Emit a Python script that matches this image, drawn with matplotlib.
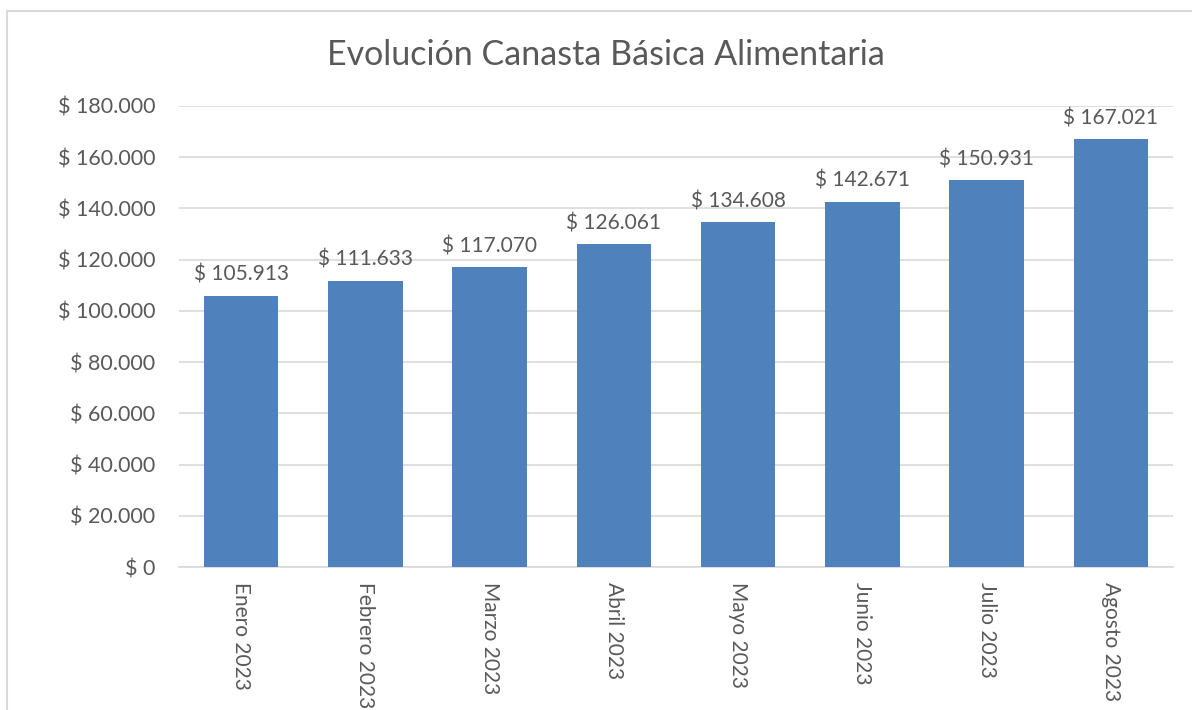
import matplotlib.pyplot as plt
from matplotlib.patches import Rectangle

# Canasta Basica Alimentaria values by month
months = ['Enero 2023', 'Febrero 2023', 'Marzo 2023', 'Abril 2023',
          'Mayo 2023', 'Junio 2023', 'Julio 2023', 'Agosto 2023']
values = [105913, 111633, 117070, 126061, 134608, 142671, 150931, 167021]
y_ticks = [0, 20000, 40000, 60000, 80000, 100000, 120000, 140000, 160000, 180000]


def fmt_peso(v):
    return '$ ' + f'{v:,.0f}'.replace(',', '.')


plt.rcParams['font.family'] = ['Lato', 'DejaVu Sans']
text_color = '#595959'
grid_color = '#D9D9D9'
bar_color = '#4F81BD'

fig = plt.figure(figsize=(11.92, 7.1), dpi=100)
fig.patch.set_facecolor('white')

# chart area border (runs off the right/bottom edge like the screenshot)
fig.add_artist(Rectangle((7 / 1192, -0.05), 1.2, 1 - 11 / 710 + 0.05,
                         transform=fig.transFigure, fill=False,
                         edgecolor=grid_color, linewidth=1.5))

ax = fig.add_axes([179 / 1192, 1 - 567 / 710, (1173 - 179) / 1192, (567 - 106) / 710])

x = list(range(len(months)))
bars = ax.bar(x, values, width=0.6, color=bar_color, zorder=3)

for xi, v in zip(x, values):
    ax.annotate(fmt_peso(v), (xi, v), xytext=(0, 8), textcoords='offset points',
                ha='center', va='bottom', fontsize=15, color=text_color)

ax.set_xlim(-0.5, len(months) - 0.5)
ax.set_ylim(0, 180000)
ax.set_yticks(y_ticks)
ax.set_yticklabels([fmt_peso(t) for t in y_ticks])
ax.set_xticks(x)
ax.set_xticklabels(months, rotation=-90, va='top', ha='center')
ax.tick_params(axis='y', length=0, labelsize=15.5, colors=text_color, pad=17)
ax.tick_params(axis='x', length=0, labelsize=15, colors=text_color, pad=11)

ax.grid(axis='y', color=grid_color, linewidth=1.2, zorder=0)
for side in ['top', 'right', 'left']:
    ax.spines[side].set_visible(False)
ax.spines['bottom'].set_color(grid_color)
ax.spines['bottom'].set_linewidth(1.2)

fig.text(606 / 1192, 1 - 55 / 710, 'Evolución Canasta Básica Alimentaria',
         ha='center', va='center', fontsize=24.5, color=text_color)

plt.savefig('out.png', dpi=100)
